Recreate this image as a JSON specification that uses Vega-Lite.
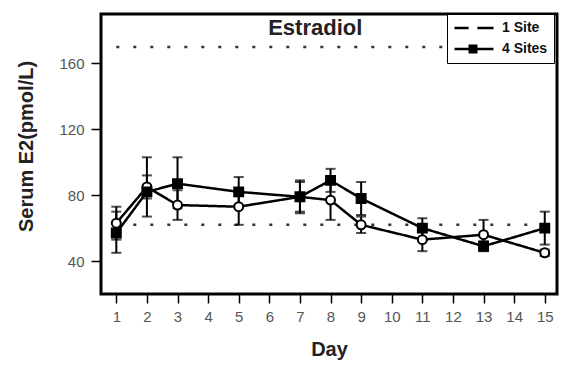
{
  "$schema": "https://vega.github.io/schema/vega-lite/v6.json",
  "width": 456,
  "height": 280,
  "autosize": {"type": "none"},
  "padding": {"left": 101, "top": 14, "right": 7, "bottom": 77},
  "background": "white",
  "config": {
    "font": "Liberation Sans",
    "view": {"stroke": "black", "strokeWidth": 3},
    "axis": {
      "grid": false,
      "domain": false,
      "tickColor": "black",
      "tickWidth": 1.5,
      "labelColor": "#555",
      "labelFontSize": 15,
      "labelFont": "Liberation Sans",
      "labelOverlap": false,
      "labelFlush": false,
      "titleFont": "Liberation Sans",
      "titleFontSize": 20,
      "titleFontWeight": "bold",
      "titleColor": "#222"
    }
  },
  "datasets": {
    "series": [
      {"day": 1, "group": "1 Site", "mean": 63, "lo": 53, "hi": 73},
      {"day": 2, "group": "1 Site", "mean": 85, "lo": 78, "hi": 92},
      {"day": 3, "group": "1 Site", "mean": 74, "lo": 65, "hi": 83},
      {"day": 5, "group": "1 Site", "mean": 73, "lo": 62, "hi": 84},
      {"day": 7, "group": "1 Site", "mean": 79, "lo": 69, "hi": 88},
      {"day": 8, "group": "1 Site", "mean": 77, "lo": 65, "hi": 88},
      {"day": 9, "group": "1 Site", "mean": 62, "lo": 57, "hi": 67},
      {"day": 11, "group": "1 Site", "mean": 53, "lo": 46, "hi": 60},
      {"day": 13, "group": "1 Site", "mean": 56, "lo": 47, "hi": 65},
      {"day": 15, "group": "1 Site", "mean": 45, "lo": 43, "hi": 47},
      {"day": 1, "group": "4 Sites", "mean": 57, "lo": 45, "hi": 70},
      {"day": 2, "group": "4 Sites", "mean": 82, "lo": 67, "hi": 103},
      {"day": 3, "group": "4 Sites", "mean": 87, "lo": 72, "hi": 103},
      {"day": 5, "group": "4 Sites", "mean": 82, "lo": 73, "hi": 91},
      {"day": 7, "group": "4 Sites", "mean": 79, "lo": 70, "hi": 89},
      {"day": 8, "group": "4 Sites", "mean": 89, "lo": 82, "hi": 96},
      {"day": 9, "group": "4 Sites", "mean": 78, "lo": 68, "hi": 88},
      {"day": 11, "group": "4 Sites", "mean": 60, "lo": 53, "hi": 66},
      {"day": 13, "group": "4 Sites", "mean": 49, "lo": 46, "hi": 52},
      {"day": 15, "group": "4 Sites", "mean": 60, "lo": 50, "hi": 70}
    ],
    "refs": [
      {"day": 1, "day2": 15.4, "ref": 170},
      {"day": 1, "day2": 15.4, "ref": 62}
    ],
    "titles": [
      {"day": 7.5, "value": 177, "label": "Estradiol"}
    ]
  },
  "encoding": {
    "x": {
      "field": "day",
      "type": "quantitative",
      "scale": {"domain": [0.5, 15.4], "nice": false, "zero": false},
      "axis": {
        "values": [1, 2, 3, 4, 5, 6, 7, 8, 9, 10, 11, 12, 13, 14, 15],
        "tickSize": 9,
        "labelPadding": 6,
        "title": "Day",
        "titleY": 61,
        "titleBaseline": "alphabetic"
      }
    }
  },
  "layer": [
    {
      "data": {"name": "refs"},
      "mark": {"type": "rule", "stroke": "#333", "strokeWidth": 2.5, "strokeDash": [3, 14]},
      "encoding": {
        "x2": {"field": "day2"},
        "y": {
          "field": "ref",
          "type": "quantitative",
          "scale": {"domain": [20, 190], "nice": false, "zero": false},
          "axis": {
            "values": [40, 80, 120, 160],
            "tickSize": 10,
            "labelPadding": 7,
            "title": "Serum E2(pmol/L)",
            "titleX": -65,
            "titleY": 132,
            "titleBaseline": "bottom"
          }
        }
      }
    },
    {
      "data": {"name": "series"},
      "mark": {"type": "rule", "stroke": "black", "strokeWidth": 2},
      "encoding": {
        "y": {"field": "lo", "type": "quantitative"},
        "y2": {"field": "hi"},
        "detail": {"field": "group"}
      }
    },
    {
      "data": {"name": "series"},
      "mark": {"type": "tick", "orient": "horizontal", "color": "black", "size": 10, "thickness": 2},
      "encoding": {
        "y": {"field": "lo", "type": "quantitative"},
        "detail": {"field": "group"}
      }
    },
    {
      "data": {"name": "series"},
      "mark": {"type": "tick", "orient": "horizontal", "color": "black", "size": 10, "thickness": 2},
      "encoding": {
        "y": {"field": "hi", "type": "quantitative"},
        "detail": {"field": "group"}
      }
    },
    {
      "data": {"name": "series"},
      "mark": {"type": "line", "stroke": "black", "strokeWidth": 2.5},
      "encoding": {
        "y": {"field": "mean", "type": "quantitative"},
        "strokeDash": {
          "field": "group",
          "type": "nominal",
          "scale": {"domain": ["1 Site", "4 Sites"], "range": [[1, 0], [1, 0]]},
          "legend": {
            "title": null,
            "orient": "none",
            "legendX": 346,
            "legendY": 0,
            "zindex": 1,
            "strokeColor": "black",
            "fillColor": "white",
            "padding": 6,
            "symbolSize": 1521,
            "symbolStrokeWidth": 2.5,
            "symbolStrokeColor": "black",
            "clipHeight": 16,
            "labelFontSize": 14,
            "labelFontWeight": "bold",
            "labelColor": "#111",
            "labelFont": "Liberation Sans",
            "labelOffset": 7,
            "rowPadding": 5,
            "encode": {
              "legend": {"strokeWidth": {"value": 2}}
            }
          }
        }
      }
    },
    {
      "data": {"name": "series"},
      "mark": {"type": "point", "filled": false, "stroke": "black", "strokeWidth": 2, "size": 80, "opacity": 1},
      "encoding": {
        "y": {"field": "mean", "type": "quantitative"},
        "shape": {
          "field": "group",
          "type": "nominal",
          "scale": {"range": ["circle", "square"]},
          "legend": {
            "title": null,
            "orient": "none",
            "legendX": 359,
            "legendY": 0,
            "zindex": 2,
            "padding": 6,
            "symbolSize": 80,
            "symbolStrokeWidth": 2,
            "symbolStrokeColor": "black",
            "symbolOpacity": 1,
            "clipHeight": 16,
            "labelFontSize": 14,
            "labelFontWeight": "bold",
            "labelFont": "Liberation Sans",
            "labelOpacity": 0,
            "labelOffset": 7,
            "rowPadding": 5
          }
        },
        "fill": {
          "field": "group",
          "type": "nominal",
          "scale": {"range": ["white", "black"]},
          "legend": {
            "title": null,
            "orient": "none",
            "legendX": 359,
            "legendY": 0,
            "zindex": 2,
            "padding": 6,
            "symbolSize": 80,
            "symbolStrokeWidth": 2,
            "symbolStrokeColor": "black",
            "symbolOpacity": 1,
            "clipHeight": 16,
            "labelFontSize": 14,
            "labelFontWeight": "bold",
            "labelFont": "Liberation Sans",
            "labelOpacity": 0,
            "labelOffset": 7,
            "rowPadding": 5
          }
        }
      }
    },
    {
      "data": {"name": "titles"},
      "mark": {"type": "text", "font": "Liberation Sans", "fontSize": 22, "fontWeight": "bold", "color": "#222", "baseline": "alphabetic", "align": "center"},
      "encoding": {
        "y": {"field": "value", "type": "quantitative"},
        "text": {"field": "label"}
      }
    }
  ]
}
